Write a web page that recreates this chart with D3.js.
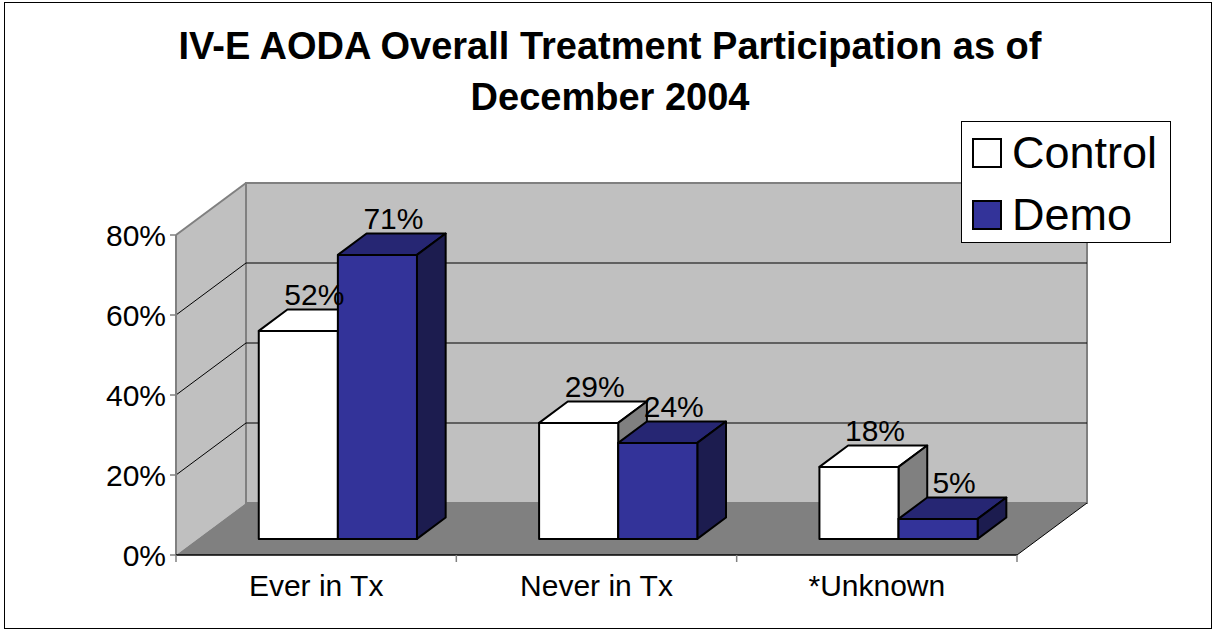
<!DOCTYPE html>
<html>
<head>
<meta charset="utf-8">
<script src="https://cdn.jsdelivr.net/npm/d3@7"></script>
<style>
  html, body { margin: 0; padding: 0; background: #fff; }
  svg { display: block; font-family: Arial, "Liberation Sans", sans-serif; }
</style>
</head>
<body>
<div id="chart"></div>
<script>
const width = 1215;
const height = 632;

// data
const categories = ["Ever in Tx", "Never in Tx", "*Unknown"];
const seriesNames = ["Control", "Demo"];
const control = [0.52, 0.29, 0.18];
const demo = [0.71, 0.24, 0.05];
const yTicks = [0, 0.2, 0.4, 0.6, 0.8];
const titleLines = ["IV-E AODA Overall Treatment Participation as of", "December 2004"];

const colors = {
  Control: { front: "#ffffff", top: "#ffffff", side: "#808080" },
  Demo: { front: "#333399", top: "#262673", side: "#1c1c4f" }
};

// depth of the 3d box
const DX = 70, DY = 52;
const zFront = 0.31, zBack = 0.72;

const x = d3.scaleBand().domain(categories).range([176, 1017]);
const sub = d3.scaleBand().domain(seriesNames).range([0, x.bandwidth()]).paddingOuter(0.772);
const y = d3.scaleLinear().domain([0, 0.8]).range([555, 235]);

const p = (px, py, z) => [px + z * DX, py - z * DY];
const poly = pts => "M" + pts.map(d => d.join(",")).join("L") + "Z";

const svg = d3.select("#chart").append("svg")
  .attr("width", width).attr("height", height);

// outer frame
svg.append("rect").attr("x", 4.5).attr("y", 2.5).attr("width", 1207).attr("height", 626)
  .attr("fill", "#fff").attr("stroke", "#000").attr("stroke-width", 1);

// title
svg.append("g").selectAll("text").data(titleLines).join("text")
  .attr("x", 610).attr("y", (d, i) => 59 + i * 51)
  .attr("text-anchor", "middle")
  .attr("font-weight", "bold").attr("font-size", 38)
  .text(d => d);

const x0 = x.range()[0], x1 = x.range()[1];
const yTop = y(0.8), yBot = y(0);

// side wall
svg.append("path")
  .attr("d", poly([p(x0, yTop, 0), p(x0, yTop, 1), p(x0, yBot, 1), p(x0, yBot, 0)]))
  .attr("fill", "#c0c0c0");

// back wall
svg.append("path")
  .attr("d", poly([p(x0, yTop, 1), p(x1, yTop, 1), p(x1, yBot, 1), p(x0, yBot, 1)]))
  .attr("fill", "#c0c0c0").attr("stroke", "#808080").attr("stroke-width", 2);

// floor
svg.append("path")
  .attr("d", poly([p(x0, yBot, 0), p(x1, yBot, 0), p(x1, yBot, 1), p(x0, yBot, 1)]))
  .attr("fill", "#808080");

// gridlines
const grid = svg.append("g").attr("fill", "none").attr("stroke", "#000").attr("stroke-width", 1);
yTicks.filter(v => v > 0 && v < 0.8).forEach(v => {
  const a = p(x0, y(v), 0), b = p(x0, y(v), 1), c = p(x1, y(v), 1);
  grid.append("path").attr("d", "M" + a + "L" + b + "L" + c);
});

// wall edges
svg.append("path")
  .attr("d", "M" + p(x0, yTop, 0) + "L" + p(x0, yTop, 1))
  .attr("stroke", "#808080").attr("stroke-width", 2).attr("fill", "none");
svg.append("path")
  .attr("d", "M" + p(x1, yBot, 0) + "L" + p(x1, yBot, 1))
  .attr("stroke", "#000").attr("stroke-width", 1).attr("fill", "none");

// y axis
const yAxis = svg.append("g");
yAxis.append("line").attr("x1", x0).attr("x2", x0).attr("y1", yTop).attr("y2", yBot)
  .attr("stroke", "#808080").attr("stroke-width", 2);
yAxis.selectAll(".tick").data(yTicks).join("line")
  .attr("x1", x0 - 6).attr("x2", x0).attr("y1", d => y(d)).attr("y2", d => y(d))
  .attr("stroke", "#808080").attr("stroke-width", 1.5);
yAxis.selectAll("text").data(yTicks).join("text")
  .attr("x", x0 - 10).attr("y", d => y(d)).attr("dy", "0.36em")
  .attr("text-anchor", "end").attr("font-size", 30)
  .text(d => d3.format(".0%")(d));

// x axis
const xAxis = svg.append("g");
xAxis.append("line").attr("x1", x0).attr("x2", x1).attr("y1", yBot).attr("y2", yBot)
  .attr("stroke", "#000").attr("stroke-width", 1.5);
const bounds = [x0].concat(categories.map(c => x(c) + x.bandwidth()));
xAxis.selectAll(".tick").data(bounds).join("line")
  .attr("x1", d => d).attr("x2", d => d).attr("y1", yBot).attr("y2", yBot + 7)
  .attr("stroke", "#808080").attr("stroke-width", 1.5);
xAxis.selectAll("text").data(categories).join("text")
  .attr("x", d => x(d) + x.bandwidth() / 2).attr("y", 596)
  .attr("text-anchor", "middle").attr("font-size", 30)
  .text(d => d);

// bars
const rows = [];
categories.forEach((c, i) => {
  rows.push({ cat: c, s: "Control", v: control[i] });
  rows.push({ cat: c, s: "Demo", v: demo[i] });
});

const bars = svg.append("g").attr("stroke", "#000").attr("stroke-width", 2).attr("stroke-linejoin", "round");
rows.forEach(d => {
  const l = x(d.cat) + sub(d.s), r = l + sub.bandwidth();
  const t = y(d.v), b = y(0);
  const col = colors[d.s];
  // top
  bars.append("path").attr("fill", col.top)
    .attr("d", poly([p(l, t, zFront), p(r, t, zFront), p(r, t, zBack), p(l, t, zBack)]));
  // side
  bars.append("path").attr("fill", col.side)
    .attr("d", poly([p(r, t, zFront), p(r, t, zBack), p(r, b, zBack), p(r, b, zFront)]));
  // front
  bars.append("path").attr("fill", col.front)
    .attr("d", poly([p(l, t, zFront), p(r, t, zFront), p(r, b, zFront), p(l, b, zFront)]));
});

// value labels
svg.append("g").selectAll("text").data(rows).join("text")
  .attr("x", d => p(x(d.cat) + sub(d.s) + sub.bandwidth() / 2, 0, zFront)[0] + 16)
  .attr("y", d => p(0, y(d.v), zBack)[1] - 5)
  .attr("text-anchor", "middle").attr("font-size", 30)
  .text(d => d3.format(".0%")(d.v));

// legend
const legend = svg.append("g");
legend.append("rect").attr("x", 961.5).attr("y", 121.5).attr("width", 209).attr("height", 121)
  .attr("fill", "#fff").attr("stroke", "#000").attr("stroke-width", 1);
const items = legend.selectAll("g").data(seriesNames).join("g")
  .attr("transform", (d, i) => `translate(0,${i * 62})`);
items.append("rect").attr("x", 973).attr("y", 139).attr("width", 28).attr("height", 28)
  .attr("fill", d => colors[d].front).attr("stroke", "#000").attr("stroke-width", 2);
items.append("text").attr("x", 1012).attr("y", 168).attr("font-size", 45)
  .text(d => d);
</script>
</body>
</html>
